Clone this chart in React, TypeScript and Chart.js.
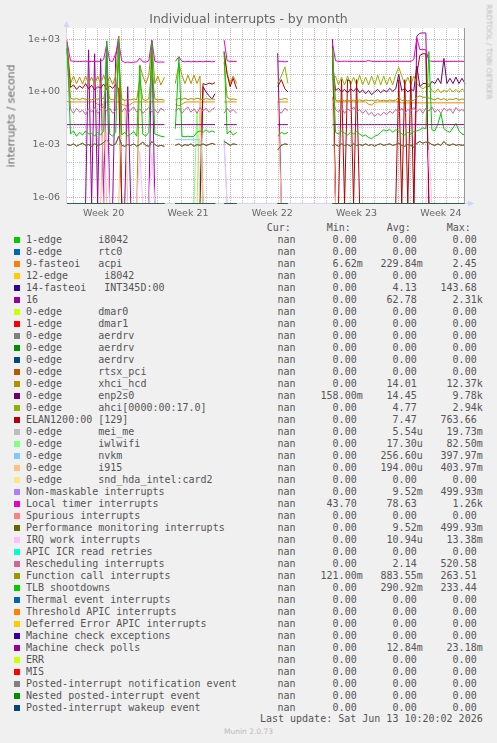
import React, { useEffect, useRef } from 'react';
import { Chart, registerables } from 'chart.js';

Chart.register(...registerables);

// ---------- time axis (days since start of Week 20) ----------
const T = [
  0.46, 0.75, 1, 1.25, 1.5, 1.75, 2, 2.25, 2.5, 2.75, 3, 3.25, 3.5, 3.75, 4, 4.25, 4.5, 4.75, 5, 5.25, 5.5, 5.75, 6, 6.25, 6.5, 6.75, 7, 7.25, 7.5, 7.75, 8, 8.25, 8.55,
  9,
  9.45, 9.75, 10, 10.25, 10.5, 10.75, 11, 11.25, 11.5, 11.75, 12, 12.25, 12.5, 12.75,
  13.1,
  13.5, 13.75, 14, 14.25, 14.55,
  16,
  17.95, 18.25, 18.55, 18.8,
  20,
  22.5, 22.75, 23, 23.25, 23.5, 23.75, 24, 24.25, 24.5, 24.75, 25, 25.25, 25.5, 25.75, 26, 26.25, 26.5, 26.75, 27, 27.25, 27.5, 27.75, 28, 28.25, 28.5, 28.75, 29, 29.25, 29.5, 29.75, 30, 30.25, 30.5, 30.75, 31, 31.25, 31.5, 31.75, 32, 32.25, 32.5, 32.75, 33, 33.25, 33.5,
];

// series that stay at zero: one flat piece per data segment
const ZERO_T = [0.46, 8.55, 9, 9.45, 12.75, 13.1, 13.5, 14.55, 16, 17.95, 18.8, 20, 22.5, 33.5];
const ZERO_V = [0, 0, null, 0, 0, null, 0, 0, null, 0, 0, null, 0, 0];

// ---------- series values (interrupts / second), aligned with T ----------
const ACPI = [
  0.28, 0.27, 0.27, 0.27, 0.27, 0.27, 0.27, 0.27, 0.27, 0.27, 0.2, 0.17, 0.2, 0.27, 0.27, 0.27, 0.27, 0.27, 0.2, 0.17, 0.16, 0.2, 0.27, 0.27, 0.27, 0.27, 0.27, 0.27, 0.27, 0.27, 0.27, 0.27, 0.27,
  null,
  0.2, 0.16, 0.2, 0.26, 0.27, 0.27, 0.27, 0.27, 0.27, 0.27, 0.27, 0.27, 0.27, 0.27,
  null,
  0.27, 0.27, 0.27, 0.27, 0.27,
  null,
  0.27, 0.27, 0.27, 0.27,
  null,
  0.27, 0.27, 0.27, 0.27, 0.27, 0.27, 0.27, 0.27, 0.27, 0.27, 0.27, 0.27, 0.2, 0.18, 0.25, 0.27, 0.27, 0.27, 0.27, 0.27, 0.27, 0.27, 0.27, 0.24, 0.24, 0.24, 0.24, 0.24, 0.24, 0.24, 0.24, 0.24, 0.24, 0.24, 0.24, 0.24, 0.24, 0.24, 0.24, 0.24, 0.24, 0.24, 0.24, 0.24, 0.24,
];

const SIXTEEN = [
  0, 0, 0, 0, 0, 0, 0, 250, 0, 150, 0, 80, 0, 800, 0, 0, 100, 1500, 0, 0, 2, 0, 0, 0, 0, 0, 0, 0, 800, 0, 0, 0, 0,
  null,
  0, 0, 0, 0, 0, 0, 0, 0, 0, 0, 0, 0, 0, 0,
  null,
  0, 0, 0, 0, 0,
  null,
  160, 0, 0, 0,
  null,
  1000, 0, 0, 0, 0, 0, 0, 0, 0, 0, 0, 0, 0, 0, 0, 0, 0, 0, 0, 0, 0, 0, 0, 0, 0, 0, 0, 0, 1500, 2200, 2300, 2300, 0, 0, 0, 0, 0, 0, 0, 0, 0, 0, 0, 0, 0,
];

const XHCI = [
  900, 3, 8, 3, 7, 2.8, 8, 3, 7, 2.6, 8, 3, 9, 3, 7, 2.7, 8, 1500, 0, 0, 0, 0, 0, 0, 35, 8, 3, 9, 700, 3, 8, 2.5, 7,
  null,
  3, 40, 9, 3, 9, 3, 9, 3, 8, 0, 0, 0, 0, 0,
  null,
  150, 12, 3, 8, 3,
  null,
  0, 0, 0, 0,
  null,
  0, 0, 0, 0, 0, 0, 0, 0, 0, 0, 0, 0, 0, 0, 0, 0, 0, 0, 0, 0, 0, 0, 0, 0, 0, 0, 0, 0, 0, 0, 0, 0, 0, 0, 0, 0, 0, 0, 0, 0, 0, 0, 0, 0, 0,
];

const ENP = [
  0, 0, 0, 0, 0, 0, 0, 0, 0, 0, 0, 0, 0, 0, 0, 0, 0, 0, 0, 0, 0, 0, 0, 0, 0, 0, 0, 0, 0, 0, 0, 0, 0,
  null,
  0, 0, 0, 0, 0, 0, 0, 0, 0, 2.0, 1.0, 0.6, 0.4, 0.8,
  null,
  0, 0, 0, 0, 0,
  null,
  0, 0, 0, 0,
  null,
  50, 1.2, 1.6, 1.0, 1.4, 0.9, 1.5, 1.1, 1.7, 0.9, 1.3, 0.8, 1.2, 0.7, 1.0, 1.4, 0.9, 1.3, 1.0, 1.6, 1.1, 1.5, 10, 1.2, 1.6, 1.0, 1.4, 1.2, 30, 2, 3, 3, 2, 4, 3, 6, 3, 80, 3, 6, 3, 7, 3, 6, 3,
];

const AHCI = [
  0, 0, 0, 0, 0, 0, 0, 0, 0, 0, 0, 0, 0, 0, 0, 0, 0, 0, 0, 0, 0, 0, 0, 0, 0, 0, 0, 0, 0, 0, 0, 0, 0,
  null,
  0, 0, 0, 0, 0, 0, 0, 0, 0, 0, 0, 0, 0, 0,
  null,
  0, 0, 0, 0, 0,
  null,
  3, 8, 27, 3,
  null,
  5, 8, 2.5, 7, 2.5, 8, 2.5, 7, 2.5, 9, 2.5, 7, 2.5, 8, 2.5, 9, 2.5, 8, 2.5, 7, 2.5, 10, 25, 8, 2.5, 7, 2.5, 8, 3, 2, 1.5, 2, 3, 1.2, 0.9, 1.5, 0.9, 1.3, 1.0, 1.6, 1.0, 1.4, 0.9, 1.5, 1.1,
];

const ELAN = [
  300, 1.8, 2.5, 1.4, 2.2, 1.6, 3, 1.5, 2.4, 1.3, 2, 1.7, 2.8, 1.4, 2.2, 1.6, 2.6, 1.5, 0, 0, 0, 0, 0, 0, 0, 0, 0, 0, 0, 0, 0, 0, 0,
  null,
  0, 0, 0, 0, 0, 0, 0, 0, 0, 3.0, 2.6, 3.2, 2.8, 3.4,
  null,
  200, 10, 2.0, 6, 1.5,
  null,
  2, 5, 1.5, 1.0,
  null,
  400, 0, 0, 5, 0, 5, 4, 0, 5, 0, 0, 0, 0, 0, 0, 0, 0, 0, 0, 0, 0, 0, 5, 0, 5, 0, 8, 0, 10, 120, 150, 150, 0, 0, 0, 0, 0, 0, 0, 0, 0, 0, 0, 0, 0,
];

const IWL = [
  0, 0, 0, 0, 0, 0, 0, 0, 0, 0, 0, 0, 0, 0, 0, 0, 0, 0, 0, 0, 0, 0, 0, 0, 0, 0, 0, 0, 0, 0, 0, 0, 0,
  null,
  0, 0, 0, 0, 0, 0, 0, 0.08, 0, 0, 0, 0, 0, 0,
  null,
  0, 0, 0, 0, 0,
  null,
  0, 0, 0, 0,
  null,
  0, 0, 0, 0, 0, 0, 0, 0, 0, 0, 0, 0, 0, 0, 0, 0, 0, 0, 0, 0, 0, 0, 0, 0, 0, 0, 0, 0, 0, 0, 0, 0, 0, 0, 0, 0, 0, 0, 0, 0, 0, 0, 0, 0, 0,
];

const NVKM = [
  0, 0, 0, 0, 0, 0, 0, 0, 0, 0, 0, 0, 0, 0, 0, 0, 0, 0, 0, 0, 0, 0, 0, 0, 0, 0, 0, 0, 0, 0, 0, 0, 0,
  null,
  0.002, 0.0019, 0.0019, 0.0019, 0.0019, 0.0019, 0.0019, 0.0019, 0.0019, 0, 0, 0, 0, 0,
  null,
  0.002, 0, 0, 0, 0,
  null,
  0, 0, 0, 0,
  null,
  0, 0, 0, 0, 0, 0, 0, 0, 0, 0, 0, 0, 0, 0, 0, 0, 0, 0, 0, 0, 0, 0, 0, 0, 0, 0, 0, 0, 0, 0, 0, 0, 0, 0, 0, 0, 0, 0, 0, 0, 0, 0, 0, 0, 0,
];

const I915 = [
  0, 0, 0, 0, 0, 0, 0, 0, 0, 0, 0, 0, 0.3, 0, 0, 0, 0, 0, 0.4, 0.35, 0, 0, 0, 0, 0, 0, 0, 0, 0, 0, 0, 0, 0,
  null,
  0, 0, 0, 0, 0, 0, 0, 0, 0.4, 0, 0, 0, 0, 0,
  null,
  0, 0, 0, 0, 0,
  null,
  0.3, 0, 0, 0,
  null,
  0.4, 0, 0, 0, 0, 0, 0, 0, 0, 0, 0, 0, 0, 0, 0, 0, 0, 0, 0, 0, 0, 0, 0, 0, 0, 0, 0, 0, 0, 0, 0, 0, 0, 0, 0, 0, 0, 0, 0, 0, 0, 0, 0, 0, 0,
];

const LOCAL = [
  700, 60, 55, 55, 54, 55, 56, 55, 54, 55, 55, 56, 70, 500, 58, 55, 150, 700, 60, 48, 50, 48, 50, 51, 85, 52, 50, 60, 900, 55, 50, 51, 50,
  null,
  55, 100, 55, 52, 55, 52, 55, 52, 55, 52, 55, 55, 52, 55,
  null,
  900, 60, 55, 55, 55,
  null,
  56, 55, 52, 55,
  null,
  550, 60, 55, 55, 56, 55, 55, 55, 55, 54, 55, 55, 62, 55, 55, 54, 55, 55, 55, 55, 55, 55, 56, 55, 55, 55, 55, 70, 1200, 260, 260, 250, 60, 55, 55, 55, 56, 55, 55, 55, 55, 55, 56, 55, 55,
];

const PERF = [
  0.001, 0.0009, 0.0011, 0.0008, 0.001, 0.0012, 0.0009, 0.001, 0.0008, 0.0011, 0.0009, 0.001, 0.0013, 0.002, 0.001, 0.0009, 0.0011, 0.003, 0.0009, 0.0008, 0.001, 0.0009, 0.0011, 0.0008, 0.001, 0.0014, 0.0009, 0.0008, 0.0015, 0.001, 0.0008, 0.0009, 0.0008,
  null,
  0.0009, 0.0011, 0.0008, 0.001, 0.0009, 0.0011, 0.0008, 0.001, 0.0009, 0.0011, 0.0009, 0.001, 0.0012, 0.001,
  null,
  0.0015, 0.0012, 0.0009, 0.0011, 0.001,
  null,
  0.0005, 0.0009, 0.0011, 0.001,
  null,
  0.0009, 0.001, 0.0008, 0.0011, 0.0009, 0.001, 0.0008, 0.0011, 0.0009, 0.001, 0.0009, 0.0011, 0.0009, 0.001, 0.0008, 0.001, 0.0011, 0.0009, 0.001, 0.0011, 0.0009, 0.001, 0.0012, 0.0009, 0.0008, 0.001, 0.0009, 0.0007, 0.0012, 0.0015, 0.0012, 0.0014, 0.0013, 0.001, 0.0009, 0.0011, 0.0009, 0.0015, 0.001, 0.0009, 0.0011, 0.0009, 0.001, 0.0009, 0.001,
];

const IRQW = [
  0, 0, 0, 0, 0, 0, 0, 0, 0, 0, 0, 0, 0, 0.005, 0, 0, 0, 0, 0, 0, 0, 0, 0, 0, 0.0004, 0, 0, 0, 0.0003, 0, 0, 0, 0,
  null,
  0, 0, 0, 0, 0, 0, 0, 0, 0, 0, 0, 0, 0, 0,
  null,
  0.001, 0, 0, 0, 0,
  null,
  0, 0, 0, 0,
  null,
  0, 0, 0, 0, 0, 0, 0, 0, 0, 0, 0, 0, 0, 0, 0, 0, 0, 0, 0, 0, 0, 0, 0, 0, 0, 0, 0, 0, 0, 0, 0, 0, 0.0005, 0, 0, 0, 0, 0, 0, 0, 0, 0, 0, 0, 0,
];

const RESCHED = [
  300, 0.1, 0.06, 0.12, 0.07, 0.09, 0.05, 0.11, 0.07, 0.13, 0.06, 0.1, 0.15, 0.08, 0.12, 0.06, 0.09, 200, 0.07, 0.12, 0.06, 0.1, 0.14, 0.07, 0.11, 0.06, 0.09, 0.13, 0.07, 0.1, 0.06, 0.12, 0.08,
  null,
  0.08, 0.12, 0.06, 0.1, 0.14, 0.07, 0.11, 0.06, 0.13, 0.08, 0.12, 0.07, 0.1, 0.13,
  null,
  0.06, 0.12, 0.07, 0.1, 0.06,
  null,
  0.1, 0.06, 0.12, 0.08,
  null,
  0.5, 0.1, 0.07, 0.13, 0.06, 0.11, 0.08, 0.14, 0.07, 0.1, 0.06, 0.09, 0.05, 0.07, 0.04, 0.06, 0.045, 0.07, 0.05, 0.08, 0.06, 0.1, 0.07, 0.12, 0.06, 0.1, 0.08, 0.13, 0.07, 0.11, 0.06, 0.12, 0.08, 0.14, 0.07, 0.1, 0.06, 0.12, 0.08, 0.11, 0.06, 0.13, 0.08, 0.1, 0.07,
];

const FUNC = [
  200, 0.45, 0.38, 0.42, 0.36, 0.44, 0.37, 0.4, 0.35, 0.42, 0.38, 0.45, 0.4, 3, 0.4, 0.36, 0.42, 50, 0.4, 0.33, 0.38, 0.35, 0.4, 0.36, 5, 0.38, 0.33, 0.4, 20, 0.4, 0.35, 0.38, 0.34,
  null,
  0.35, 0.42, 0.38, 0.44, 0.36, 0.42, 0.38, 0.44, 0.4, 0.36, 0.42, 0.38, 0.4, 0.37,
  null,
  50, 0.5, 0.38, 0.4, 0.37,
  null,
  0.4, 0.38, 0.42, 0.38,
  null,
  100, 0.34, 0.3, 0.36, 0.31, 0.35, 0.3, 0.34, 0.31, 0.36, 0.3, 0.35, 0.32, 0.34, 0.3, 0.36, 0.31, 0.34, 0.3, 0.35, 0.32, 0.34, 0.5, 0.32, 0.36, 0.3, 0.34, 0.32, 0.5, 0.6, 0.5, 0.5, 0.45, 0.4, 0.36, 0.45, 0.35, 0.42, 0.33, 0.4, 0.36, 0.44, 0.34, 0.4, 0.36,
];

const TLB = [
  500, 0.004, 0.006, 0.003, 0.005, 0.0035, 0.006, 0.004, 0.0045, 0.003, 0.005, 0.0035, 0.006, 800, 0.004, 0.003, 0.005, 900, 0.0035, 0.005, 0.003, 0.004, 0.0055, 0.003, 30, 0.004, 0.003, 0.005, 700, 0.004, 0.0035, 0.003, 0.0028,
  null,
  0.008, 100, 0.003, 0.0028, 0.003, 0.0028, 0.003, 0.005, 0.006, 0.005, 0.007, 0.005, 0.006, 0.005,
  null,
  200, 0.004, 0.006, 0.0035, 0.005,
  null,
  0.003, 0.005, 0.004, 0.005,
  null,
  300, 0.005, 0.004, 0.006, 0.0045, 0.0035, 0.005, 0.004, 0.0055, 0.004, 0.003, 0.0035, 0.0025, 0.0022, 0.003, 0.0035, 0.005, 0.007, 0.006, 0.0075, 0.005, 0.007, 0.006, 0.004, 0.0035, 0.005, 0.004, 0.0055, 0.006, 0.007, 0.009, 0.008, 200, 0.007, 0.006, 0.015, 0.06, 0.008, 0.006, 0.005, 0.009, 0.016, 0.006, 0.004, 0.0035,
];

const MCE_POLLS = [
  0.0138, 0.0138, 0.0138, 0.0138, 0.0138, 0.0138, 0.0138, 0.0138, 0.0138, 0.0138, 0.0138, 0.0138, 0.0138, 0.0138, 0.0138, 0.0138, 0.0138, 0.0138, 0.0138, 0.0138, 0.0138, 0.0138, 0.0138, 0.0138, 0.0138, 0.0138, 0.0138, 0.0138, 0.0138, 0.0138, 0.0138, 0.0138, 0.0138,
  null,
  0.0138, 0.0138, 0.0138, 0.0138, 0.0138, 0.0138, 0.0138, 0.0138, 0.0138, 0.0138, 0.0138, 0.0138, 0.0138, 0.0138,
  null,
  0.0138, 0.0138, 0.0138, 0.0138, 0.0138,
  null,
  0.0138, 0.0138, 0.0138, 0.0138,
  null,
  0.0138, 0.0138, 0.0138, 0.0138, 0.0138, 0.0138, 0.0138, 0.0138, 0.0138, 0.0138, 0.0138, 0.0138, 0.0138, 0.0138, 0.0138, 0.0138, 0.0138, 0.0138, 0.0138, 0.0138, 0.0138, 0.0138, 0.0138, 0.0138, 0.0138, 0.0138, 0.0138, 0.0138, 0.0138, 0.0138, 0.0138, 0.0138, 0.0138, 0.0138, 0.0138, 0.0138, 0.0138, 0.0138, 0.0138, 0.0138, 0.0138, 0.0138, 0.0138, 0.0138, 0.0138,
];

// ---------- legend ----------
const LABELS = [
  '1-edge      i8042', '8-edge      rtc0', '9-fasteoi   acpi', '12-edge      i8042', '14-fasteoi   INT345D:00', '16',
  '0-edge      dmar0', '1-edge      dmar1', '0-edge      aerdrv', '0-edge      aerdrv', '0-edge      aerdrv', '0-edge      rtsx_pci',
  '0-edge      xhci_hcd', '0-edge      enp2s0', '0-edge      ahci[0000:00:17.0]', 'ELAN1200:00 [129]', '0-edge      mei_me',
  '0-edge      iwlwifi', '0-edge      nvkm', '0-edge      i915', '0-edge      snd_hda_intel:card2', 'Non-maskable interrupts',
  'Local timer interrupts', 'Spurious interrupts', 'Performance monitoring interrupts', 'IRQ work interrupts', 'APIC ICR read retries',
  'Rescheduling interrupts', 'Function call interrupts', 'TLB shootdowns', 'Thermal event interrupts', 'Threshold APIC interrupts',
  'Deferred Error APIC interrupts', 'Machine check exceptions', 'Machine check polls', 'ERR', 'MIS',
  'Posted-interrupt notification event', 'Nested posted-interrupt event', 'Posted-interrupt wakeup event',
];
const COLORS = [
  '#00CC00', '#0066B3', '#FF8000', '#FFCC00', '#330099', '#990099', '#CCFF00', '#FF0000', '#808080', '#008F00',
  '#00487D', '#B35A00', '#B38F00', '#6B006B', '#8FB300', '#B30000', '#BEBEBE', '#80FF80', '#80C9FF', '#FFC080',
  '#FFE680', '#AA80FF', '#EE00CC', '#FF8080', '#666600', '#FFBFFF', '#00FFCC', '#CC6699', '#999900', '#00CC00',
  '#0066B3', '#FF8000', '#FFCC00', '#330099', '#990099', '#CCFF00', '#FF0000', '#808080', '#008F00', '#00487D',
];
const MIN = [
  '0.00', '0.00', '6.62m', '0.00', '0.00', '0.00', '0.00', '0.00', '0.00', '0.00',
  '0.00', '0.00', '0.00', '158.00m', '0.00', '0.00', '0.00', '0.00', '0.00', '0.00',
  '0.00', '0.00', '43.70', '0.00', '0.00', '0.00', '0.00', '0.00', '121.00m', '0.00',
  '0.00', '0.00', '0.00', '0.00', '0.00', '0.00', '0.00', '0.00', '0.00', '0.00',
];
const AVG = [
  '0.00', '0.00', '229.84m', '0.00', '4.13', '62.78', '0.00', '0.00', '0.00', '0.00',
  '0.00', '0.00', '14.01', '14.45', '4.77', '7.47', '5.54u', '17.30u', '256.60u', '194.00u',
  '0.00', '9.52m', '78.63', '0.00', '9.52m', '10.94u', '0.00', '2.14', '883.55m', '290.92m',
  '0.00', '0.00', '0.00', '0.00', '12.84m', '0.00', '0.00', '0.00', '0.00', '0.00',
];
const MAX = [
  '0.00', '0.00', '2.45', '0.00', '143.68', '2.31k', '0.00', '0.00', '0.00', '0.00',
  '0.00', '0.00', '12.37k', '9.78k', '2.94k', '763.66', '19.73m', '82.50m', '397.97m', '403.97m',
  '0.00', '499.93m', '1.26k', '0.00', '499.93m', '13.38m', '0.00', '520.58', '263.51', '233.44',
  '0.00', '0.00', '0.00', '0.00', '23.18m', '0.00', '0.00', '0.00', '0.00', '0.00',
];

// which value array belongs to which legend row (others are zero)
const SERIES_BY_ROW: Record<number, (number | null)[]> = {
  2: ACPI, 5: SIXTEEN, 12: XHCI, 13: ENP, 14: AHCI, 15: ELAN, 17: IWL, 18: NVKM, 19: I915,
  21: PERF, 22: LOCAL, 24: PERF, 25: IRQW, 27: RESCHED, 28: FUNC, 29: TLB, 34: MCE_POLLS,
};

// ---------- axes ----------
const X_MIN = 0.457;
const X_MAX = 33.5;
const Y_MIN = 4.4e-7;
const Y_MAX = 4400;
const Y_TICKS = [1e-6, 1e-5, 1e-4, 1e-3, 1e-2, 1e-1, 1, 10, 100, 1000];
const Y_LABELED = [1e-6, 1e-3, 1, 1000];
const Y_LABEL_TEXT = ['1e-06', '1e-03', '1e+00', '1e+03'];
const DAY_LINES = [1, 2, 3, 4, 5, 6, 7, 8, 9, 10, 11, 12, 13, 14, 15, 16, 17, 18, 19, 20, 21, 22, 23, 24, 25, 26, 27, 28, 29, 30, 31, 32, 33];
const WEEK_LINES = [7, 14, 21, 28];
const WEEK_CENTERS = [3.5, 10.5, 17.5, 24.5, 31.5];
const WEEK_LABELS = ['Week 20', 'Week 21', 'Week 22', 'Week 23', 'Week 24'];

const MINOR_GRID = 'rgba(143,143,143,0.55)';
const MAJOR_GRID = 'rgba(222,79,79,0.55)';
const AXIS_COLOR = '#CFD6F8';
const FONT_COLOR = '#666666';

const rrdFrame = {
  id: 'rrdFrame',
  beforeDraw(chart: any) {
    const { ctx, chartArea: a } = chart;
    ctx.save();
    ctx.fillStyle = '#FFFFFF';
    ctx.fillRect(a.left, a.top, a.right - a.left, a.bottom - a.top);
    ctx.restore();
  },
  beforeDatasetsDraw(chart: any) {
    const { ctx, chartArea: a } = chart;
    ctx.save();
    ctx.strokeStyle = AXIS_COLOR;
    ctx.fillStyle = AXIS_COLOR;
    ctx.lineWidth = 1;
    ctx.beginPath();
    ctx.moveTo(a.left - 0.5, a.bottom);
    ctx.lineTo(a.left - 0.5, a.top - 2);
    ctx.moveTo(a.left - 1, a.bottom);
    ctx.lineTo(a.right + 3, a.bottom);
    ctx.stroke();
    ctx.beginPath();
    ctx.moveTo(a.left - 0.5, a.top - 7);
    ctx.lineTo(a.left - 3.5, a.top - 1);
    ctx.lineTo(a.left + 2.5, a.top - 1);
    ctx.closePath();
    ctx.fill();
    ctx.beginPath();
    ctx.moveTo(a.right + 9, a.bottom);
    ctx.lineTo(a.right + 3, a.bottom - 3);
    ctx.lineTo(a.right + 3, a.bottom + 3);
    ctx.closePath();
    ctx.fill();
    ctx.restore();
  },
  afterDatasetsDraw(chart: any) {
    const { ctx, chartArea: a } = chart;
    ctx.save();
    ctx.strokeStyle = '#9a9a9a';
    ctx.lineWidth = 1;
    ctx.beginPath();
    ctx.moveTo(a.right - 0.5, a.top);
    ctx.lineTo(a.right - 0.5, a.bottom);
    ctx.stroke();
    ctx.restore();
  },
};

// a log axis cannot show 0: like rrdtool, zero samples sit on the axis floor
const onLogFloor = (v: number | null) => (v === 0 ? Y_MIN : v);

function buildDatasets() {
  return LABELS.map((label, i) => {
    const vals = SERIES_BY_ROW[i];
    const xs = vals ? T : ZERO_T;
    const ys = vals ? vals : ZERO_V;
    return {
      label,
      data: xs.map((x, j) => ({ x, y: onLogFloor(ys[j] as number | null) })),
      borderColor: COLORS[i],
      backgroundColor: COLORS[i],
      borderWidth: 1,
      pointRadius: 0,
      tension: 0,
      spanGaps: false,
      clip: { left: 1, top: 1, right: 1, bottom: 0 },
      order: LABELS.length - i,
    };
  });
}

const withUnitPad = (s: string) => (/[a-z]$/i.test(s) ? s : s + ' ');

export default function App() {
  const ref = useRef<HTMLCanvasElement | null>(null);

  useEffect(() => {
    if (!ref.current) return;
    const xTicks = [...DAY_LINES, ...WEEK_CENTERS].sort((a, b) => a - b);
    const chart = new Chart(ref.current, {
      type: 'line',
      data: { datasets: buildDatasets() as any },
      options: {
        responsive: false,
        animation: false,
        layout: { padding: { left: 0, right: 32, top: 28, bottom: 0 } },
        plugins: { legend: { display: false }, tooltip: { enabled: false }, title: { display: false } },
        scales: {
          x: {
            type: 'linear',
            min: X_MIN,
            max: X_MAX,
            afterFit: (s: any) => { s.height = 16.5; },
            afterBuildTicks: (s: any) => { s.ticks = xTicks.map((v) => ({ value: v })); },
            border: { display: false, dash: [1, 1] },
            grid: {
              drawTicks: false,
              lineWidth: 1,
              color: (c: any) => {
                const v = c.tick ? c.tick.value : 0;
                if (WEEK_CENTERS.includes(v)) return 'rgba(0,0,0,0)';
                return WEEK_LINES.includes(v) ? MAJOR_GRID : MINOR_GRID;
              },
            },
            ticks: {
              autoSkip: false,
              maxRotation: 0,
              minRotation: 0,
              padding: 4,
              color: FONT_COLOR,
              font: { family: 'DejaVu Sans', size: 9.5 },
              callback: (v: any) => {
                const k = WEEK_CENTERS.indexOf(Number(v));
                return k >= 0 ? WEEK_LABELS[k] : '';
              },
            },
          },
          y: {
            type: 'logarithmic',
            min: Y_MIN,
            max: Y_MAX,
            afterFit: (s: any) => { s.width = 67; },
            afterBuildTicks: (s: any) => { s.ticks = Y_TICKS.map((v) => ({ value: v })); },
            border: { display: false, dash: [1, 1] },
            grid: {
              drawTicks: false,
              lineWidth: 1,
              color: (c: any) => {
                const v = c.tick ? c.tick.value : 0;
                return Y_LABELED.includes(v) ? MAJOR_GRID : MINOR_GRID;
              },
            },
            ticks: {
              autoSkip: false,
              padding: 7,
              color: FONT_COLOR,
              font: { family: 'DejaVu Sans', size: 9.5 },
              callback: (v: any) => {
                const k = Y_LABELED.indexOf(Number(v));
                return k >= 0 ? Y_LABEL_TEXT[k] : '';
              },
            },
          },
        },
      } as any,
      plugins: [rrdFrame],
    });
    return () => chart.destroy();
  }, []);

  const mono: React.CSSProperties = {
    position: 'absolute',
    fontFamily: '"DejaVu Sans Mono", monospace',
    fontSize: 10,
    lineHeight: '12px',
    whiteSpace: 'pre',
    color: '#555',
  };

  return (
    <div style={{ position: 'absolute', left: 0, top: 0, width: 497, height: 743, background: '#F0F0F0', overflow: 'hidden', fontFamily: '"DejaVu Sans", sans-serif' }}>
      <canvas ref={ref} width={497} height={220} style={{ position: 'absolute', left: 0, top: 0, width: 497, height: 220 }} />
      <div style={{ position: 'absolute', left: 0, top: 11, width: 497, textAlign: 'center', fontSize: 12.5, lineHeight: '16px', color: FONT_COLOR, whiteSpace: 'nowrap' }}>
        Individual interrupts - by month
      </div>
      <div style={{ position: 'absolute', left: 10.8, top: 115.5, transform: 'translate(-50%, -50%) rotate(-90deg)', fontSize: 10.9, lineHeight: '13px', color: FONT_COLOR, whiteSpace: 'nowrap' }}>
        interrupts / second
      </div>
      <div style={{ position: 'absolute', left: 488.5, top: 52, transform: 'translate(-50%, -50%) rotate(90deg)', fontSize: 7.4, lineHeight: '9px', color: '#BBBBBB', whiteSpace: 'nowrap' }}>
        RRDTOOL / TOBI OETIKER
      </div>

      <div style={{ ...mono, left: 266.7, top: 222.3 }}>Cur:</div>
      <div style={{ ...mono, left: 326.7, top: 222.3 }}>Min:</div>
      <div style={{ ...mono, left: 386.7, top: 222.3 }}>Avg:</div>
      <div style={{ ...mono, left: 446.7, top: 222.3 }}>Max:</div>

      {LABELS.map((lab, i) => {
        const cy = 239.5 + 12 * i;
        return (
          <React.Fragment key={i}>
            <div style={{ position: 'absolute', left: 14, top: cy - 3, width: 6, height: 6, background: COLORS[i] }} />
            <div style={{ ...mono, left: 26, top: cy - 6 }}>{lab}</div>
            <div style={{ ...mono, right: 497 - 295.5, top: cy - 6, textAlign: 'right' }}>nan</div>
            <div style={{ ...mono, right: 497 - 362.7, top: cy - 6, textAlign: 'right' }}>{withUnitPad(MIN[i])}</div>
            <div style={{ ...mono, right: 497 - 422.7, top: cy - 6, textAlign: 'right' }}>{withUnitPad(AVG[i])}</div>
            <div style={{ ...mono, right: 497 - 482.7, top: cy - 6, textAlign: 'right' }}>{withUnitPad(MAX[i])}</div>
          </React.Fragment>
        );
      })}

      <div style={{ ...mono, right: 497 - 482.7, top: 713.3, textAlign: 'right' }}>Last update: Sat Jun 13 10:20:02 2026</div>
      <div style={{ position: 'absolute', left: 0, width: 497, top: 727.3, textAlign: 'center', fontSize: 7.5, lineHeight: '10px', color: '#BBBBBB', whiteSpace: 'nowrap' }}>
        Munin 2.0.73
      </div>
    </div>
  );
}
